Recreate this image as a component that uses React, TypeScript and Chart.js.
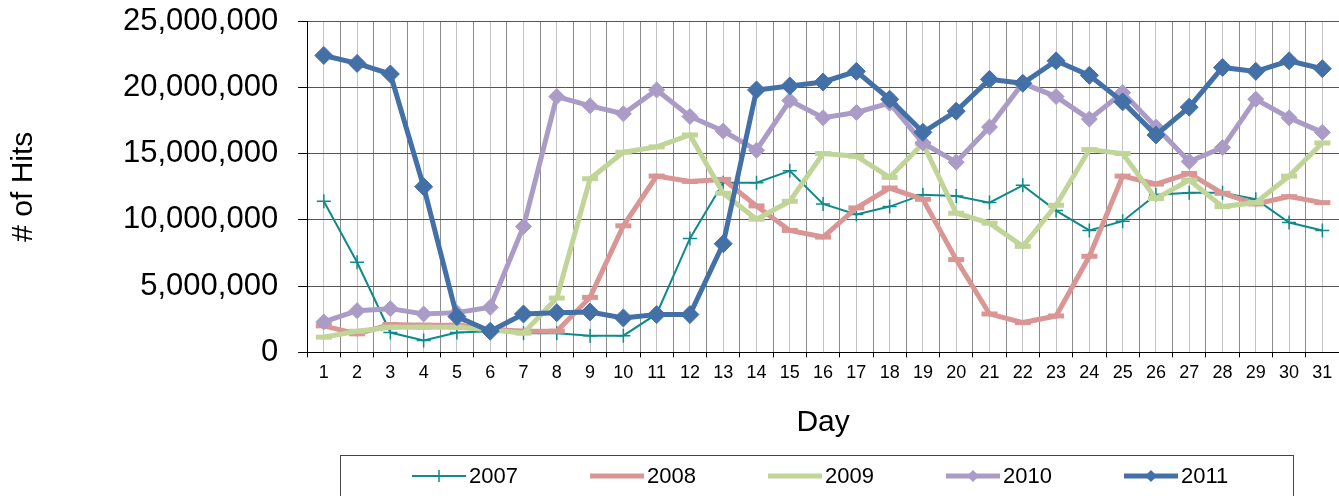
import React, { useEffect, useRef } from "react";
import { Chart, registerables } from "chart.js";

Chart.register(...registerables);

const days = ["1","2","3","4","5","6","7","8","9","10","11","12","13","14","15","16","17","18","19","20","21","22","23","24","25","26","27","28","29","30","31"];

const seriesNames = ["2007", "2008", "2009", "2010", "2011"];

const hits2007 = [11400000, 6800000, 1500000, 900000, 1500000, 1600000, 1450000, 1450000, 1260000, 1260000, 2900000, 8600000, 12800000, 12800000, 13700000, 11200000, 10400000, 11000000, 11900000, 11800000, 11300000, 12600000, 10700000, 9200000, 9900000, 11900000, 12050000, 12050000, 11550000, 9800000, 9200000];
const hits2008 = [2000000, 1400000, 2100000, 2050000, 2050000, 1750000, 1600000, 1600000, 4150000, 9550000, 13300000, 12900000, 13050000, 11050000, 9200000, 8700000, 10900000, 12400000, 11550000, 7000000, 2900000, 2250000, 2750000, 7250000, 13300000, 12700000, 13500000, 12000000, 11200000, 11750000, 11300000];
const hits2009 = [1150000, 1600000, 1900000, 1900000, 1900000, 1700000, 1450000, 4100000, 13100000, 15100000, 15500000, 16400000, 12000000, 10050000, 11400000, 15000000, 14800000, 13200000, 15750000, 10500000, 9750000, 8000000, 11100000, 15300000, 15000000, 11600000, 13000000, 11000000, 11300000, 13300000, 15800000];
const hits2010 = [2300000, 3150000, 3300000, 2900000, 3000000, 3400000, 9500000, 19300000, 18600000, 18000000, 19800000, 17800000, 16700000, 15250000, 19000000, 17700000, 18100000, 18800000, 15800000, 14350000, 17000000, 20300000, 19300000, 17600000, 19600000, 17000000, 14400000, 15450000, 19100000, 17700000, 16600000];
const hits2011 = [22400000, 21800000, 21000000, 12500000, 2700000, 1600000, 2900000, 3000000, 3050000, 2600000, 2850000, 2850000, 8200000, 19800000, 20100000, 20400000, 21200000, 19100000, 16600000, 18200000, 20600000, 20300000, 22000000, 20900000, 18900000, 16400000, 18500000, 21500000, 21200000, 22000000, 21400000];

const yTicks = [0, 5000000, 10000000, 15000000, 20000000, 25000000];

const seriesData = [hits2007, hits2008, hits2009, hits2010, hits2011];
const seriesColors = ["#0f8a8a", "#d99694", "#c0d597", "#aa9cc6", "#4470a8"];
const seriesMarkers = ["cross", "line", "line", "rectRot", "rectRot"];
const seriesLineWidths = [2, 5, 5, 5, 5];
const seriesRadii = [7, 8, 8, 8, 9];

const FONT = "'Liberation Sans', Arial, Helvetica, sans-serif";

function LegendSymbol({ idx }: { idx: number }) {
  const c = seriesColors[idx];
  const m = seriesMarkers[idx];
  const w = seriesLineWidths[idx];
  return (
    <svg width={54} height={20} style={{ display: "block" }}>
      <line x1={0} y1={10} x2={54} y2={10} stroke={c} strokeWidth={w} />
      {m === "cross" && <line x1={27} y1={4} x2={27} y2={16} stroke={c} strokeWidth={1.5} />}
      {m === "rectRot" && <polygon points="27,4 33,10 27,16 21,10" fill={c} />}
    </svg>
  );
}

export default function App() {
  const canvasRef = useRef<HTMLCanvasElement | null>(null);

  useEffect(() => {
    const canvas = canvasRef.current;
    if (!canvas) return;
    Chart.defaults.font.family = FONT;
    Chart.defaults.color = "#000";
    const datasets = seriesNames.map((name, i) => ({
      label: name,
      data: seriesData[i],
      borderColor: seriesColors[i],
      backgroundColor: seriesColors[i],
      borderWidth: seriesLineWidths[i],
      pointStyle: seriesMarkers[i] as any,
      pointRadius: seriesRadii[i],
      pointBorderWidth: seriesMarkers[i] === "line" ? 5 : seriesMarkers[i] === "cross" ? 1.5 : 1,
      pointBorderColor: seriesColors[i],
      pointBackgroundColor: seriesColors[i],
      tension: 0,
      fill: false,
      clip: false as any,
      order: seriesNames.length - 1 - i,
      xAxisID: "x",
      yAxisID: "y",
    }));

    const noPad = (scale: any) => {
      scale.paddingLeft = 0;
      scale.paddingRight = 0;
      scale.paddingTop = 0;
      scale.paddingBottom = 0;
    };

    const chart = new Chart(canvas, {
      type: "line",
      data: { labels: days, datasets },
      options: {
        animation: false,
        responsive: false,
        maintainAspectRatio: false,
        devicePixelRatio: 1,
        layout: { autoPadding: false, padding: { top: 21, right: 0, bottom: 55, left: 0 } },
        plugins: {
          legend: { display: false },
          tooltip: { enabled: false },
        },
        scales: {
          x: {
            type: "category",
            position: "bottom",
            offset: true,
            afterFit: noPad,
            grid: { offset: true, color: "#8c8c8c", tickColor: "#000", tickLength: 5, drawTicks: true, lineWidth: 1 },
            border: { display: true, color: "#000", width: 1 },
            ticks: { padding: 5, autoSkip: false, maxRotation: 0, color: "#000", font: { size: 18, family: FONT } },
            title: { display: true, text: "Day", color: "#000", font: { size: 30, family: FONT }, padding: { top: 16, bottom: 0 } },
          },
          x2: {
            type: "category",
            position: "top",
            offset: true,
            afterFit: noPad,
            grid: { offset: false, color: "#c4c4c4", drawTicks: false, lineWidth: 1 },
            border: { display: false },
            ticks: { display: false },
          },
          y: {
            type: "linear",
            position: "left",
            min: 0,
            max: 25000000,
            afterFit: noPad,
            afterBuildTicks: (scale: any) => {
              scale.ticks = yTicks.map((v) => ({ value: v }));
            },
            grid: { color: "#555", tickColor: "#000", tickLength: 9, drawTicks: true, lineWidth: 1 },
            border: { display: true, color: "#000", width: 1 },
            ticks: {
              padding: 20,
              color: "#000",
              font: { size: 31, family: FONT },
              callback: (v: any) => Number(v).toLocaleString("en-US"),
            },
            title: { display: true, text: "# of Hits", color: "#000", font: { size: 30, family: FONT }, padding: { top: 6, bottom: 61 } },
          },
        },
      },
    });
    return () => chart.destroy();
  }, []);

  return (
    <div style={{ position: "absolute", left: 0, top: 0, width: 1339, height: 496, overflow: "hidden", background: "#fff" }}>
      <canvas ref={canvasRef} width={1339} height={496} style={{ width: 1339, height: 496, display: "block" }} />
      <div
        style={{
          position: "absolute",
          left: 340,
          top: 455,
          width: 954,
          height: 60,
          border: "1px solid #444",
          boxSizing: "border-box",
          fontFamily: FONT,
          fontSize: 22,
          color: "#000",
        }}
      >
        {seriesNames.map((name, i) => (
          <div
            key={name}
            style={{
              position: "absolute",
              left: 71 + i * 178,
              top: 9,
              height: 22,
              display: "flex",
              alignItems: "center",
              gap: 3,
              whiteSpace: "nowrap",
            }}
          >
            <LegendSymbol idx={i} />
            <span style={{ lineHeight: "22px" }}>{name}</span>
          </div>
        ))}
      </div>
    </div>
  );
}
